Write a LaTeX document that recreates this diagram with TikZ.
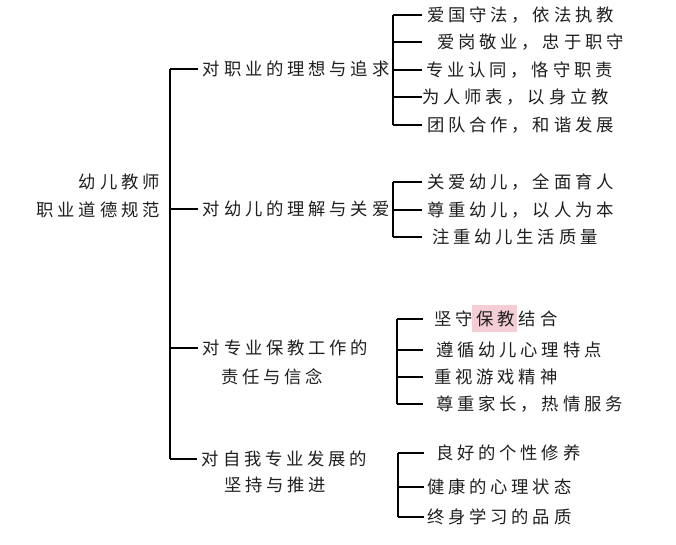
\documentclass[tikz,border=0pt]{standalone}
\usepackage{fontspec}
\usepackage{xcolor}
\usepackage{tikz}
\usetikzlibrary{positioning,calc}
\newfontfamily\cjk[LetterSpace=22]{Noto Sans CJK SC}
\definecolor{ink}{RGB}{30,30,30}
\definecolor{markpink}{RGB}{244,206,212}
\newdimen\pxu \pxu=0.75pt

\begin{document}
\begin{tikzpicture}[
    x=0.75pt, y=-0.75pt,
    txt/.style={font=\cjk\fontsize{13pt}{15pt}\selectfont, text=ink, inner sep=0pt},
    cat/.style={txt, anchor=west, inner xsep=3.5pt},
    leaf/.style={txt, anchor=west},
    link/.style={draw=black, line width=1pt},
]
    \useasboundingbox (0,0) rectangle (676,544);
    \fill[markpink] (472,305) rectangle (517,332);
    % Root
    \node[txt, anchor=east] (r1) at (160,182) {幼儿教师};
    \node[txt, anchor=east] (r2) at (160,210) {职业道德规范};
    \coordinate (m) at (170,0);
    \node[cat] (c1) at (198,69) {对职业的理想与追求};
    \node[cat] (c2) at (198,209) {对幼儿的理解与关爱};
    \node[cat] (c3) at (198,348) {对专业保教工作的};
    \node[txt, anchor=west] (c3b) at (221,377) {责任与信念};
    \node[cat] (c4) at (197,459) {对自我专业发展的};
    \node[txt, anchor=west] (c4b) at (224,485) {坚持与推进};
    \foreach \c in {c1,c2,c3,c4} {
        \draw[link] (m |- \c.west) -- (\c.west);
    }
    \draw[link] (m |- c1.west) -- (m |- c4.west);
    % Leaves
    \coordinate (s1) at (393,0);
    \foreach \i/\y/\d/\t in {1/15/5/爱国守法，依法执教, 2/42/15/爱岗敬业，忠于职守,
        3/70/4/专业认同，恪守职责, 4/97/0/为人师表，以身立教, 5/125/5/团队合作，和谐发展} {
        \node[leaf] (a\i) at (422,\y) {\hspace*{\d\pxu}\t};
        \draw[link] (s1 |- a\i.west) -- (a\i.west);
    }
    \draw[link] (s1 |- a1.west) -- (s1 |- a5.west);
    \coordinate (s2) at (393,0);
    \foreach \i/\y/\d/\t in {1/182/5/关爱幼儿，全面育人, 2/210/5/尊重幼儿，以人为本,
        3/237/10/注重幼儿生活质量} {
        \node[leaf] (b\i) at (422,\y) {\hspace*{\d\pxu}\t};
        \draw[link] (s2 |- b\i.west) -- (b\i.west);
    }
    \draw[link] (s2 |- b1.west) -- (s2 |- b3.west);
    \coordinate (s3) at (397,0);
    \foreach \i/\y/\d/\t in {1/319/11/坚守保教结合, 2/350/13/遵循幼儿心理特点,
        3/377/11/重视游戏精神, 4/404/13/尊重家长，热情服务} {
        \node[leaf] (d\i) at (423,\y) {\hspace*{\d\pxu}\t};
        \draw[link] (s3 |- d\i.west) -- (d\i.west);
    }
    \draw[link] (s3 |- d1.west) -- (s3 |- d4.west);
    \coordinate (s4) at (398,0);
    \foreach \i/\y/\d/\t in {1/453/12/良好的个性修养, 2/487/3/健康的心理状态,
        3/517/3/终身学习的品质} {
        \node[leaf] (e\i) at (424,\y) {\hspace*{\d\pxu}\t};
        \draw[link] (s4 |- e\i.west) -- (e\i.west);
    }
    \draw[link] (s4 |- e1.west) -- (s4 |- e3.west);
\end{tikzpicture}
\end{document}
